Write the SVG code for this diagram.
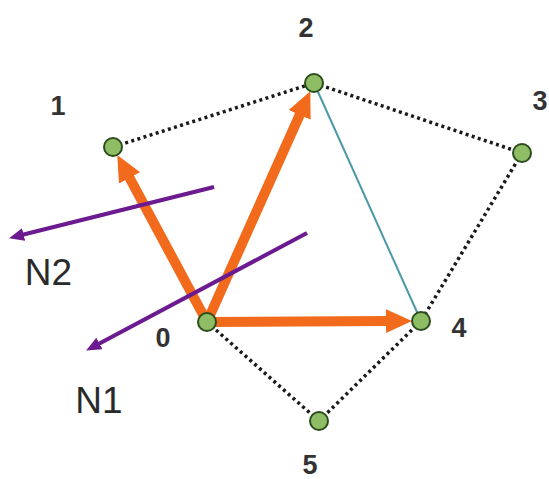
<svg xmlns="http://www.w3.org/2000/svg" width="549" height="479" viewBox="0 0 549 479">
<style>
.dot{fill:none;stroke:#1a1a1a;stroke-width:3.5;stroke-dasharray:3 3.4}
.teal{fill:none;stroke:#4a98a8;stroke-width:2}
.or{fill:none;stroke:#f26a1b;stroke-width:10;marker-end:url(#ah)}
.pu{fill:none;stroke:#6c1a8f;stroke-width:4;marker-end:url(#ph)}
.node{fill:#8fbd66;stroke:#2c4d1c;stroke-width:2}
.num{font-family:"Liberation Sans",Arial,sans-serif;font-weight:bold;font-size:27px;fill:#333;text-anchor:middle}
.lab{font-family:"Liberation Sans",Arial,sans-serif;font-size:37px;fill:#2a2a2a;text-anchor:middle}
</style>
<defs>
<marker id="ah" markerUnits="userSpaceOnUse" markerWidth="28" markerHeight="26" refX="2" refY="12" orient="auto">
<path d="M0,0 L26,12 L0,24 z" fill="#f26a1b"/>
</marker>
<marker id="ph" markerUnits="userSpaceOnUse" markerWidth="18" markerHeight="14" refX="1" refY="6.5" orient="auto">
<path d="M0,0 L15,6.5 L0,13 z" fill="#6c1a8f"/>
</marker>
</defs>
<rect width="549" height="479" fill="#fff"/>
<g id="connectors">
<line class="dot" x1="113" y1="147" x2="314" y2="83"/>
<line class="dot" x1="314" y1="83" x2="522" y2="153"/>
<line class="dot" x1="522" y1="153" x2="421" y2="321"/>
<line class="dot" x1="421" y1="321" x2="319" y2="421"/>
<line class="dot" x1="319" y1="421" x2="207" y2="322"/>
<line class="teal" x1="314" y1="83" x2="421" y2="321"/>
<line class="or" x1="207" y1="322" x2="128.6" y2="176.1"/>
<line class="or" x1="207" y1="322" x2="300.5" y2="113.1"/>
<line class="or" x1="207" y1="322" x2="388" y2="321.1"/>
<line class="pu" x1="214" y1="187" x2="22.6" y2="234.8"/>
<line class="pu" x1="307" y1="233" x2="98.5" y2="343.9"/>
</g>
<g id="n0"><circle class="node" cx="207" cy="322" r="9"/><text class="num" x="163" y="347">0</text></g>
<g id="n1"><circle class="node" cx="113" cy="147" r="9"/><text class="num" x="58" y="115">1</text></g>
<g id="n2"><circle class="node" cx="314" cy="83" r="9"/><text class="num" x="306" y="37">2</text></g>
<g id="n3"><circle class="node" cx="522" cy="153" r="9"/><text class="num" x="540" y="110">3</text></g>
<g id="n4"><circle class="node" cx="421" cy="321" r="9"/><text class="num" x="459" y="337">4</text></g>
<g id="n5"><circle class="node" cx="319" cy="421" r="9"/><text class="num" x="310" y="474">5</text></g>
<g id="N2"><text class="lab" x="48.5" y="285">N2</text></g>
<g id="N1"><text class="lab" x="99" y="413">N1</text></g>
</svg>
